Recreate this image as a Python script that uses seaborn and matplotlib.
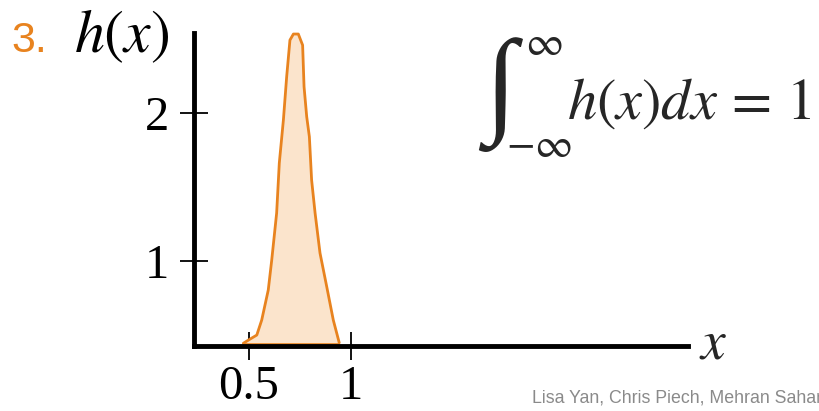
import matplotlib
matplotlib.use("Agg")
import matplotlib.pyplot as plt
import seaborn as sns
import numpy as np
import pandas as pd

# ---- data ----
curve_x = [0.472, 0.497, 0.538, 0.562, 0.594, 0.611, 0.635, 0.648, 0.668, 0.684,
           0.700, 0.717, 0.741, 0.762, 0.769, 0.782, 0.795, 0.806, 0.823, 0.847,
           0.880, 0.912, 0.941]
curve_y = [0.442, 0.464, 0.498, 0.599, 0.802, 1.005, 1.322, 1.660, 1.951, 2.243,
           2.491, 2.532, 2.532, 2.457, 2.176, 1.973, 1.838, 1.545, 1.322, 1.052,
           0.824, 0.599, 0.446]
x_ticks = [0.5, 1]
x_tick_labels = ["0.5", "1"]
y_ticks = [1, 2]
y_tick_labels = ["1", "2"]
baseline = 0.44

W, H = 820, 411
sns.set_theme(style="white")
plt.rcParams["mathtext.fontset"] = "stix"
plt.rcParams["font.family"] = ["DejaVu Sans"]

fig = plt.figure(figsize=(W / 100, H / 100), dpi=100)
ax = fig.add_axes([194 / W, 1 - 346 / H, (688 - 194) / W, (346 - 33) / H])

df = pd.DataFrame({"x": curve_x, "h": curve_y})
orange = "#E8831F"
ax.fill_between(df["x"], baseline, df["h"], color="#FBE4CC", lw=0, zorder=1, clip_on=False)
sns.lineplot(data=df, x="x", y="h", ax=ax, color=orange, lw=2, sort=False,
             zorder=2, clip_on=False)
ax.plot([curve_x[0], curve_x[-1]], [baseline, baseline], color=orange, lw=1.2, zorder=2, clip_on=False)

ax.set_xlim(0.231, 2.646)
ax.set_ylim(0.424, 2.539)
for s in ["top", "right"]:
    ax.spines[s].set_visible(False)
for s in ["left", "bottom"]:
    ax.spines[s].set_linewidth(3.5)
    ax.spines[s].set_color("black")
    ax.spines[s].set_zorder(5)
ax.set_xticks(x_ticks)
ax.set_xticklabels(x_tick_labels)
ax.set_yticks(y_ticks)
ax.set_yticklabels(y_tick_labels)
ax.tick_params(axis="both", which="major", bottom=True, left=True, direction="inout",
               length=20, width=1.3, color="black", labelsize=35, labelcolor="black")
ax.tick_params(axis="x", pad=4)
ax.tick_params(axis="y", pad=8)
for lab in ax.get_xticklabels() + ax.get_yticklabels():
    lab.set_fontfamily("Liberation Serif")
ax.set_xlabel("")
ax.set_ylabel("")
ax.patch.set_alpha(0)

def px(x, y):
    return x / W, 1 - y / H

# title "3. h(x)"
fig.text(*px(11, 52), "3.", color=orange, fontsize=31, family="Liberation Sans",
         va="baseline", ha="left")
fig.text(*px(74, 52), r"$h(x)$", color="black", fontsize=43, va="baseline", ha="left")

# integral equation
fig.text(*px(500, 95), "\u222B", fontsize=84, family="Liberation Serif", va="center", ha="center")
fig.text(*px(525, 55), r"$\infty$", fontsize=30, va="baseline", ha="left")
fig.text(*px(506, 157), r"$-\infty$", fontsize=30, va="baseline", ha="left")
fig.text(*px(567, 119), r"$h(x)dx\,=\,1$", fontsize=42, va="baseline", ha="left")

# x axis label
fig.text(*px(699, 358), r"$x$", fontsize=40, va="baseline", ha="left")

# footer
fig.text(*px(532, 402), "Lisa Yan, Chris Piech, Mehran Sahami", fontsize=12.8,
         color="#8A8A8A", family="Liberation Sans", va="baseline", ha="left")

fig.savefig("out.png", dpi=100)
